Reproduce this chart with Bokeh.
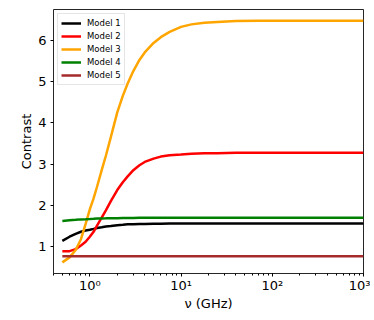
from bokeh.plotting import figure
from bokeh.models import (Legend, LegendItem, FixedTicker, LogTicker,
                          CustomJSTickFormatter, Range1d)
from bokeh.embed import file_html
from bokeh.resources import INLINE

# frequency samples (GHz)
nu = [0.5, 0.6, 0.7, 0.8, 0.9, 1.0, 1.1, 1.2, 1.35, 1.5, 1.7, 2.0, 2.3, 2.6,
      3.0, 3.5, 4.0, 5.0, 6.0, 7.5, 10, 13, 18, 25, 40, 70, 150, 1000]

model1 = [1.14, 1.24, 1.31, 1.36, 1.39, 1.41, 1.43, 1.45, 1.47, 1.49, 1.50,
          1.52, 1.53, 1.54, 1.545, 1.55, 1.55, 1.555, 1.555, 1.56, 1.56, 1.56,
          1.56, 1.56, 1.56, 1.56, 1.56, 1.56]
model2 = [0.89, 0.89, 0.94, 1.03, 1.12, 1.24, 1.36, 1.51, 1.70, 1.88, 2.10,
          2.37, 2.56, 2.70, 2.85, 2.97, 3.05, 3.13, 3.18, 3.21, 3.23, 3.25,
          3.26, 3.26, 3.27, 3.27, 3.27, 3.27]
model3 = [0.62, 0.74, 0.92, 1.18, 1.55, 1.90, 2.17, 2.45, 2.85, 3.20, 3.65,
          4.25, 4.65, 4.95, 5.25, 5.52, 5.70, 5.93, 6.07, 6.20, 6.32, 6.38,
          6.42, 6.44, 6.46, 6.47, 6.47, 6.47]
model4 = [1.62, 1.64, 1.65, 1.66, 1.665, 1.67, 1.675, 1.68, 1.683, 1.685,
          1.688, 1.69, 1.692, 1.693, 1.695, 1.697, 1.698, 1.70, 1.70, 1.70,
          1.70, 1.70, 1.70, 1.70, 1.70, 1.70, 1.70, 1.70]
model5 = [0.77] * len(nu)

labels = ["Model 1", "Model 2", "Model 3", "Model 4", "Model 5"]
colors = ["black", "red", "orange", "green", "brown"]
series = [model1, model2, model3, model4, model5]

y_ticks = [1, 2, 3, 4, 5, 6]

p = figure(width=370, height=313, x_axis_type="log",
           x_range=Range1d(0.4, 1000), y_range=Range1d(0.35, 6.74),
           output_backend="svg", toolbar_location=None,
           min_border_left=53, min_border_right=7, min_border_top=9,
           min_border_bottom=10)

items = []
for lab, col, ys in zip(labels, colors, series):
    r = p.line(nu, ys, line_color=col, line_width=2.5)
    items.append(LegendItem(label=lab, renderers=[r]))

p.xgrid.visible = False
p.ygrid.visible = False
p.outline_line_color = "black"
p.outline_line_alpha = 0.85
p.outline_line_width = 1
p.background_fill_color = "white"
p.border_fill_color = "white"

# axes
p.xaxis.ticker = LogTicker(num_minor_ticks=10)
p.xaxis.formatter = CustomJSTickFormatter(code="""
const sup = {"0":"\u2070","1":"\u00b9","2":"\u00b2","3":"\u00b3","4":"\u2074",
             "5":"\u2075","6":"\u2076","7":"\u2077","8":"\u2078","9":"\u2079","-":"\u207b"};
const e = Math.round(Math.log10(tick));
return "10" + String(e).split("").map(c => sup[c]).join("");
""")
p.yaxis.ticker = FixedTicker(ticks=y_ticks)
p.yaxis.minor_tick_line_color = None

for ax in (p.xaxis[0], p.yaxis[0]):
    ax.axis_line_color = None
    ax.major_tick_in = 0
    ax.major_tick_out = 3
    ax.major_tick_line_color = "black"
    ax.major_label_text_font = "DejaVu Sans"
    ax.major_label_text_font_size = "13px"
    ax.major_label_text_color = "black"
    ax.axis_label_text_font = "DejaVu Sans"
    ax.axis_label_text_font_size = "13px"
    ax.axis_label_text_font_style = "normal"
    ax.axis_label_text_color = "black"
p.xaxis.minor_tick_in = 0
p.xaxis.minor_tick_out = 2
p.xaxis.major_label_standoff = 1
p.yaxis.major_label_standoff = 4
p.xaxis.axis_label = "\u03bd (GHz)"
p.yaxis.axis_label = "Contrast"
p.xaxis.axis_label_standoff = 0
p.yaxis.axis_label_standoff = 1

legend = Legend(items=items, location="top_left")
legend.label_text_font = "DejaVu Sans"
legend.label_text_font_size = "8.5px"
legend.label_text_color = "black"
legend.glyph_width = 20
legend.glyph_height = 12
legend.label_height = 12
legend.spacing = 1
legend.padding = 3
legend.margin = 4
legend.label_standoff = 6
legend.border_line_color = "#cccccc"
legend.border_line_width = 1
legend.background_fill_alpha = 0.8
p.add_layout(legend)

open("out.html", "w").write(file_html(p, INLINE))
